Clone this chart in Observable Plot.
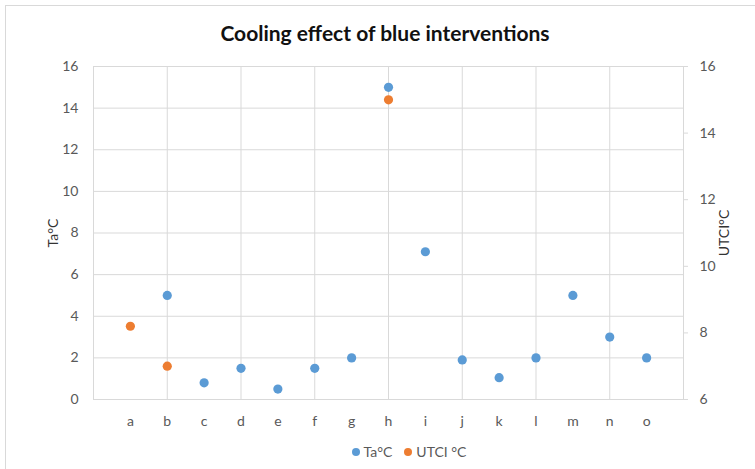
<!DOCTYPE html>
<html>
<head>
<meta charset="utf-8">
<script src="https://cdn.jsdelivr.net/npm/d3@7"></script>
<script src="https://cdn.jsdelivr.net/npm/@observablehq/plot@0.6"></script>
<style>
  html, body { margin: 0; padding: 0; background: #fff; }
  #wrap { position: relative; width: 755px; height: 469px; overflow: hidden; font-family: Lato, "Open Sans", sans-serif; }
  #border { position: absolute; left: 5px; top: 5px; width: 760px; height: 470px; border-left: 1px solid #d9d9d9; border-top: 1px solid #d9d9d9; box-sizing: border-box; }
  #title { position: absolute; left: 0; width: 770px; top: 20px; text-align: center; font-weight: bold; font-size: 21px; color: #111; }
  #chart { position: absolute; left: 0; top: 0; }
  #legend { position: absolute; left: 0; width: 818px; top: 443px; text-align: center; font-size: 14px; color: #595959; }
  .sw { display: inline-block; width: 8px; height: 8px; border-radius: 50%; margin-right: 4px; vertical-align: 1px; }
  .item { margin: 0 6px; }
  g[aria-label="y-axis label"] text { fill: #333; }
</style>
</head>
<body>
<div id="wrap">
  <div id="border"></div>
  <div id="title">Cooling effect of blue interventions</div>
  <div id="chart"></div>
  <div id="legend"></div>
</div>
<script>
// Data
const categories = ["a","b","c","d","e","f","g","h","i","j","k","l","m","n","o"];
const taValues   = [null, 5, 0.8, 1.5, 0.5, 1.5, 2, 15, 7.1, 1.9, 1.05, 2, 5, 3, 2];
const utciValues = [8.2, 7, null, null, null, null, null, 15, null, null, null, null, null, null, null];
const seriesNames = ["Ta°C", "UTCI °C"];
const seriesColors = ["#5b9bd5", "#ed7d31"];
const leftTicks = [0, 2, 4, 6, 8, 10, 12, 14, 16];
const rightTicks = [6, 8, 10, 12, 14, 16];

// Secondary axis (UTCI 6..16) mapped onto primary (Ta 0..16)
const rMin = 6, rMax = 16, lMin = 0, lMax = 16;
const toLeft = u => lMin + (u - rMin) * (lMax - lMin) / (rMax - rMin);
const toRight = l => rMin + (l - lMin) * (rMax - rMin) / (lMax - lMin);

const taData = categories.map((c, i) => ({pos: i + 1, v: taValues[i]})).filter(d => d.v != null);
const utciData = categories.map((c, i) => ({pos: i + 1, v: utciValues[i]})).filter(d => d.v != null)
  .map(d => ({pos: d.pos, v: toLeft(d.v)}));

const xGrid = d3.range(2, categories.length + 1, 2);

const chart = Plot.plot({
  width: 755,
  height: 469,
  marginLeft: 93,
  marginRight: 72,
  marginTop: 66,
  marginBottom: 70,
  style: {fontFamily: "Lato, 'Open Sans', sans-serif", fontSize: "14px", color: "#595959", background: "transparent"},
  x: {domain: [0, categories.length + 1]},
  y: {domain: [lMin, lMax]},
  marks: [
    Plot.gridY(leftTicks, {stroke: "#d9d9d9", strokeOpacity: 1}),
    Plot.gridX(xGrid, {stroke: "#d9d9d9", strokeOpacity: 1}),
    Plot.frame({stroke: "#d9d9d9"}),
    Plot.axisX(d3.range(1, categories.length + 1), {tickSize: 0, tickPadding: 17, tickFormat: d => categories[d - 1], label: null, fill: "#595959"}),
    Plot.axisY(leftTicks, {anchor: "left", tickSize: 0, tickPadding: 15, label: "Ta°C", labelAnchor: "center", labelOffset: 45, labelArrow: "none", fill: "#595959"}),
    Plot.axisY(rightTicks.map(toLeft), {anchor: "right", tickSize: 4, stroke: "#d9d9d9", tickPadding: 12, tickFormat: d => Math.round(toRight(d)), label: "UTCI°C", labelAnchor: "center", labelOffset: 45, labelArrow: "none", fill: "#595959"}),
    Plot.dot(taData, {x: "pos", y: "v", r: 4.6, fill: seriesColors[0], stroke: null}),
    Plot.dot(utciData, {x: "pos", y: "v", r: 4.6, fill: seriesColors[1], stroke: null})
  ]
});
document.getElementById("chart").appendChild(chart);

const legend = document.getElementById("legend");
seriesNames.forEach((n, i) => {
  const s = document.createElement("span");
  s.className = "item";
  s.innerHTML = `<span class="sw" style="background:${seriesColors[i]}"></span>${n}`;
  legend.appendChild(s);
});
</script>
</body>
</html>
